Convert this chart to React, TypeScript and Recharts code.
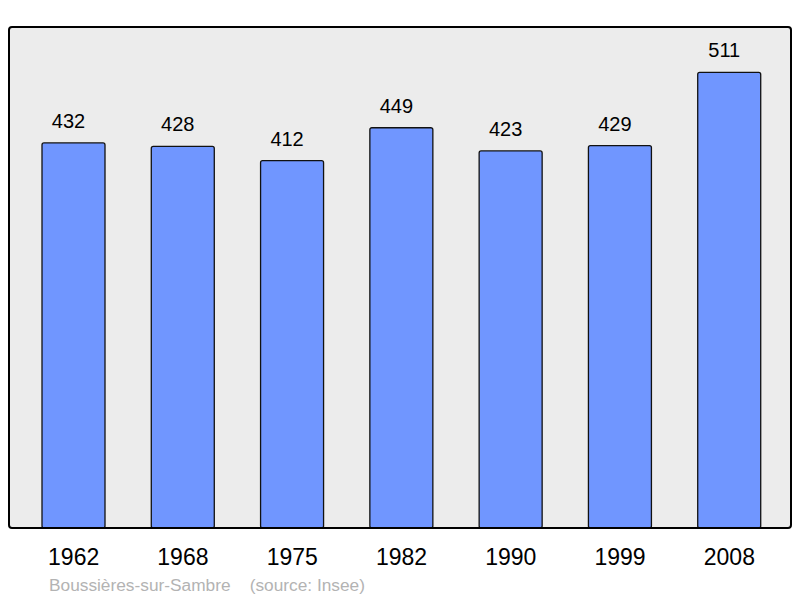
import { Bar, BarChart, CartesianGrid, LabelList, XAxis, YAxis } from "recharts";

const years = ["1962", "1968", "1975", "1982", "1990", "1999", "2008"];
const population = [432, 428, 412, 449, 423, 429, 511];
const yMax = 562;
const commune = "Boussières-sur-Sambre";
const source = "(source: Insee)";

const data = years.map((y, i) => ({ year: y, pop: population[i] }));

const FONT = "'Liberation Sans', Arial, sans-serif";

function YearTick(props: any) {
  const { x, y, payload } = props;
  return (
    <text x={x} y={y + 29} textAnchor="middle" fontSize={23} fontFamily={FONT} fill="#000">
      {payload.value}
    </text>
  );
}

function ValueLabel(props: any) {
  const { x, y, width, value } = props;
  return (
    <text
      x={x + width / 2 - 5}
      y={y - 15}
      textAnchor="middle"
      fontSize={20}
      fontFamily={FONT}
      fill="#000"
    >
      {value}
    </text>
  );
}

export default function App() {
  return (
    <div style={{ position: "absolute", left: 0, top: 0, width: 800, height: 598, background: "#fff" }}>
      <BarChart
        width={800}
        height={598}
        data={data}
        margin={{ top: 27, right: 9, bottom: 0, left: 9 }}
      >
        <CartesianGrid fill="#ececec" horizontal={false} vertical={false} />
        <XAxis
          dataKey="year"
          height={70}
          axisLine={false}
          tickLine={false}
          padding={{ left: 10, right: 7 }}
          tick={<YearTick />}
          interval={0}
        />
        <YAxis hide domain={[0, yMax]} />
        <Bar
          dataKey="pop"
          fill="#7096ff"
          stroke="#111"
          strokeWidth={1.3}
          barSize={63}
          radius={2}
          isAnimationActive={false}
        >
          <LabelList dataKey="pop" content={<ValueLabel />} />
        </Bar>
      </BarChart>
      <div
        style={{
          position: "absolute",
          left: 8,
          top: 26,
          width: 784,
          height: 503,
          boxSizing: "border-box",
          border: "2px solid #000",
          borderRadius: 4,
          pointerEvents: "none",
        }}
      />
      <div
        style={{
          position: "absolute",
          left: 49,
          top: 577,
          fontFamily: FONT,
          fontSize: 17.3,
          lineHeight: "17px",
          color: "#b3b3b3",
          whiteSpace: "pre",
        }}
      >
        {commune + "    " + source}
      </div>
    </div>
  );
}
